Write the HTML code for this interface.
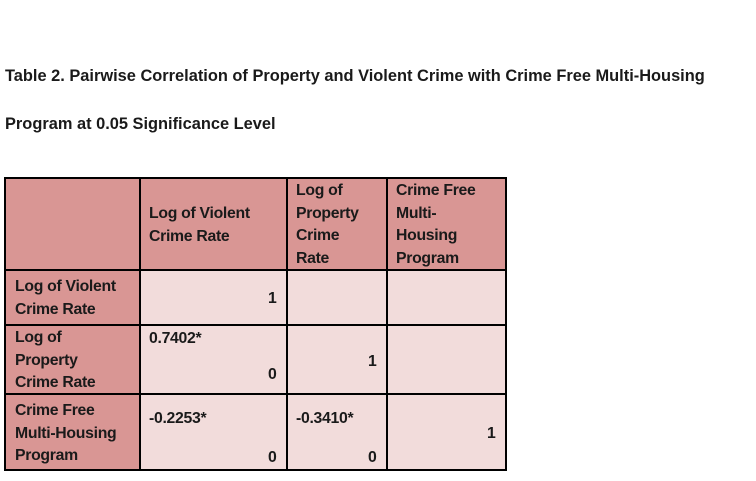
<!DOCTYPE html>
<html><head><meta charset="utf-8"><style>
body{margin:0;width:756px;height:481px;background:#fff;position:relative;overflow:hidden;font-family:"Liberation Sans",sans-serif;font-weight:bold;color:#1a1a1a;}
.t{position:absolute;left:5px;font-size:16.4px;white-space:nowrap;letter-spacing:0px}
.c{position:absolute;box-sizing:border-box;}
.h{background:#d99694}.b{background:#f2dcdb}
.x{position:absolute;font-size:15.8px;line-height:22.5px;white-space:nowrap;letter-spacing:-0.3px}
.l{position:absolute;background:#000}
</style></head><body>
<div class="t" style="top:67px">Table 2. Pairwise Correlation of Property and Violent Crime with Crime Free Multi-Housing</div>
<div class="t" style="top:115px">Program at 0.05 Significance Level</div>
<div>
<div class="c h" style="left:5px;top:178px;width:135px;height:92px"></div>
<div class="c h" style="left:140px;top:178px;width:147px;height:92px"></div>
<div class="c h" style="left:287px;top:178px;width:100px;height:92px"></div>
<div class="c h" style="left:387px;top:178px;width:119px;height:92px"></div>
<div class="c h" style="left:5px;top:270px;width:135px;height:55px"></div>
<div class="c h" style="left:5px;top:325px;width:135px;height:69px"></div>
<div class="c h" style="left:5px;top:394px;width:135px;height:76px"></div>
<div class="c b" style="left:140px;top:270px;width:366px;height:200px"></div>
<div class="l" style="left:4px;top:177px;width:503px;height:2px"></div>
<div class="l" style="left:4px;top:177px;width:2px;height:294px"></div>
<div class="l" style="left:505px;top:177px;width:2px;height:294px"></div>
<div class="l" style="left:4px;top:469px;width:503px;height:2px"></div>
<div class="l" style="left:139px;top:177px;width:2px;height:294px"></div>
<div class="l" style="left:286px;top:177px;width:2px;height:294px"></div>
<div class="l" style="left:386px;top:177px;width:2px;height:294px"></div>
<div class="l" style="left:4px;top:269px;width:503px;height:2px"></div>
<div class="l" style="left:4px;top:324px;width:503px;height:2px"></div>
<div class="l" style="left:4px;top:393px;width:503px;height:2px"></div>
<div class="x" style="left:149px;top:203px">Log of Violent<br>Crime Rate</div>
<div class="x" style="left:296px;top:180px">Log of<br>Property<br>Crime<br>Rate</div>
<div class="x" style="left:396px;top:180px">Crime Free<br>Multi-<br>Housing<br>Program</div>
<div class="x" style="left:15px;top:276px">Log of Violent<br>Crime Rate</div>
<div class="x" style="left:15px;top:327px">Log of<br>Property<br>Crime Rate</div>
<div class="x" style="left:15px;top:400px">Crime Free<br>Multi-Housing<br>Program</div>
<div class="x" style="left:268px;top:288px">1</div>
<div class="x" style="left:149px;top:328px">0.7402*</div>
<div class="x" style="left:268px;top:364px">0</div>
<div class="x" style="left:368px;top:351px">1</div>
<div class="x" style="left:149px;top:408px">-0.2253*</div>
<div class="x" style="left:268px;top:447px">0</div>
<div class="x" style="left:296px;top:408px">-0.3410*</div>
<div class="x" style="left:368px;top:447px">0</div>
<div class="x" style="left:487px;top:423px">1</div>
</div>
</body></html>
